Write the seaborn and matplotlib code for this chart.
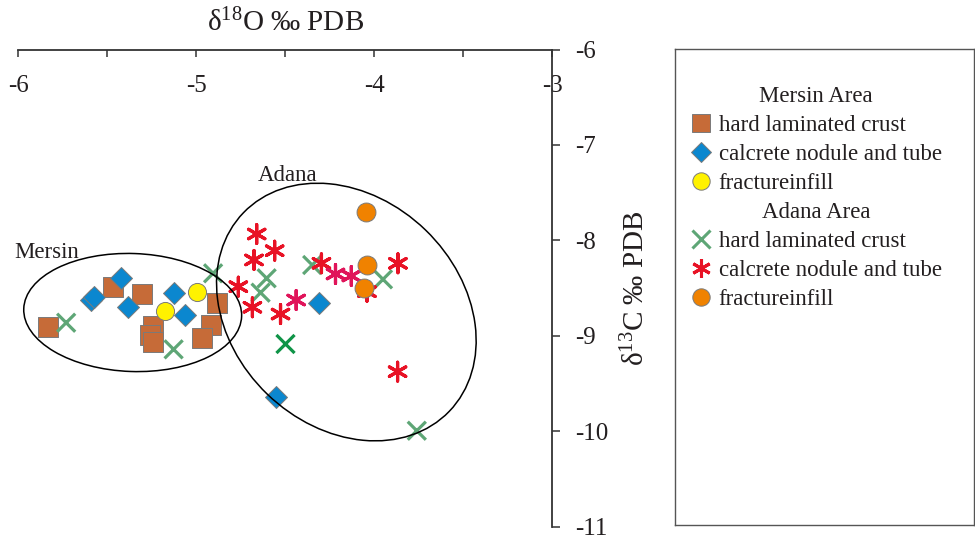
import matplotlib
matplotlib.use("Agg")
import matplotlib.pyplot as plt
import matplotlib.transforms as mtransforms
from matplotlib.lines import Line2D
from matplotlib.patches import Ellipse
from matplotlib.ticker import MultipleLocator
import pandas as pd
import seaborn as sns

sns.set_theme(style="white")
plt.rcParams.update({
    "font.family": ["Liberation Serif", "DejaVu Serif"],
    "mathtext.fontset": "custom",
    "mathtext.rm": "Liberation Serif",
    "mathtext.it": "Liberation Serif:italic",
    "text.color": "#231f20",
})

INK = "#231f20"

# Mersin area
mersin_crust_x = [-5.834, -5.466, -5.303, -5.245, -5.258, -5.245, -4.885, -4.918, -4.965]
mersin_crust_y = [-8.912, -8.493, -8.563, -8.898, -8.993, -9.063, -8.660, -8.888, -9.027]
mersin_nodule_x = [-5.423, -5.591, -5.572, -5.385, -5.124, -5.064, -4.307, -4.554]
mersin_nodule_y = [-8.398, -8.626, -8.598, -8.702, -8.556, -8.783, -8.654, -9.646]
mersin_fill_x = [-4.998, -5.174]
mersin_fill_y = [-8.539, -8.738]

# Adana area
adana_crust_x = [-5.731, -4.905, -5.127, -4.604, -4.638, -4.348, -3.950, -3.760, -4.498]
adana_crust_y = [-8.864, -8.346, -9.143, -8.398, -8.549, -8.259, -8.409, -9.996, -9.087]
adana_crust_shade = ["soft", "soft", "soft", "soft", "soft", "soft", "soft", "soft", "deep"]
adana_nodule_x = [-4.660, -4.559, -4.675, -4.296, -4.217, -4.128, -3.866, -4.763,
                  -4.438, -4.684, -4.526, -4.040, -3.868]
adana_nodule_y = [-7.934, -8.109, -8.206, -8.241, -8.353, -8.374, -8.241, -8.486,
                  -8.626, -8.702, -8.773, -8.539, -9.377]
adana_nodule_shade = ["red", "red", "red", "red", "pink", "pink", "red", "red",
                      "pink", "red", "red", "red", "red"]
adana_fill_x = [-4.045, -4.040, -4.059]
adana_fill_y = [-7.707, -8.259, -8.503]

x_ticks = [-6, -5, -4, -3]
y_ticks = [-6, -7, -8, -9, -10, -11]

BROWN = "#c66b38"
BLUE = "#0b87cf"
YELLOW = "#fff200"
ORANGE = "#f08200"
GREEN = "#5ea676"
GREEN_DEEP = "#0f9447"
RED = "#e81225"
PINK = "#e0145a"
EDGE = "#7a7a7a"
ASTER = (6, 2, 0)

fig = plt.figure(figsize=(9.75, 5.4), dpi=100)
W, H = 975, 540
ax = fig.add_axes([18.3 / W, (H - 526.5) / H, (552 - 18.3) / W, (526.5 - 49.5) / H])
ax.set_xlim(-6, -3)
ax.set_ylim(-11, -6)

# Mersin series
sns.scatterplot(x=mersin_crust_x, y=mersin_crust_y, marker="s", s=200, color=BROWN,
                edgecolor=EDGE, linewidth=0.7, ax=ax, zorder=3)
sns.scatterplot(x=mersin_nodule_x, y=mersin_nodule_y, marker="D", s=125, color=BLUE,
                edgecolor=EDGE, linewidth=0.7, ax=ax, zorder=3)
sns.scatterplot(x=mersin_fill_x, y=mersin_fill_y, marker="o", s=170, color=YELLOW,
                edgecolor=EDGE, linewidth=0.7, ax=ax, zorder=3)
# Adana series
sns.scatterplot(x=adana_crust_x, y=adana_crust_y, hue=adana_crust_shade, marker="x", s=170,
                palette={"soft": GREEN, "deep": GREEN_DEEP}, linewidth=2.3,
                legend=False, ax=ax, zorder=4)
sns.scatterplot(x=adana_nodule_x, y=adana_nodule_y, hue=adana_nodule_shade, marker=ASTER,
                s=185, palette={"red": RED, "pink": PINK}, linewidth=2.3,
                legend=False, ax=ax, zorder=4)
sns.scatterplot(x=adana_fill_x, y=adana_fill_y, marker="o", s=185, color=ORANGE,
                edgecolor=EDGE, linewidth=0.7, ax=ax, zorder=5)


def outline(cx, cy, w_in, h_in, angle):
    tr = fig.dpi_scale_trans + mtransforms.ScaledTranslation(cx, cy, ax.transData)
    ax.add_patch(Ellipse((0, 0), w_in, h_in, angle=angle, transform=tr,
                         fill=False, edgecolor="black", linewidth=1.1, zorder=6))


outline(-5.357, -8.757, 2.18, 1.18, -2)
outline(-4.156, -8.752, 2.86, 2.28, -44)

ax.text(-6.025, -8.133, "Mersin", fontsize=16.5, ha="left", va="center", color=INK)
ax.text(-4.487, -7.316, "Adana", fontsize=16.5, ha="center", va="center", color=INK)

# axes frame: top and right only
for side in ["left", "bottom"]:
    ax.spines[side].set_visible(False)
for side in ["top", "right"]:
    ax.spines[side].set_visible(True)
    ax.spines[side].set_color("#333333")
    ax.spines[side].set_linewidth(1.3)

ax.xaxis.tick_top()
ax.set_xticks(x_ticks)
ax.set_xticklabels([str(v) for v in x_ticks])
ax.xaxis.set_minor_locator(MultipleLocator(0.5))
ax.tick_params(axis="x", which="both", direction="in", length=5, width=1.1,
               color="#333333", top=True, bottom=False, labeltop=True,
               labelbottom=False, labelsize=18, pad=-34, labelcolor=INK)
ax.yaxis.tick_right()
ax.set_yticks(y_ticks)
ax.set_yticklabels([str(v) for v in y_ticks])
ax.tick_params(axis="y", direction="out", length=6, width=1.1, color="#333333",
               right=True, left=False, labelright=True, labelleft=False,
               labelsize=18, pad=11, labelcolor=INK)

ax.set_xlabel("δ$^{\\mathregular{18}}$O ‰ PDB", fontsize=21, color=INK)
ax.xaxis.set_label_position("top")
ax.xaxis.set_label_coords(0.5, 1.056)
ax.set_ylabel("δ$^{\\mathregular{13}}$C ‰ PDB", fontsize=21, color=INK, rotation=90)
ax.yaxis.set_label_position("right")
ax.yaxis.set_label_coords(1.157, 0.5)
ax.yaxis.label.set_va("center")
ax.xaxis.label.set_va("center")

# legend box
lax = fig.add_axes([675 / W, (H - 525) / H, (974 - 675) / W, (525 - 49) / H])
lax.set_xticks([])
lax.set_yticks([])
for sp in lax.spines.values():
    sp.set_visible(True)
    sp.set_color("#555555")
    sp.set_linewidth(1.0)


def handle(marker, color, ms, filled=True, mew=0.7):
    if filled:
        return Line2D([], [], linestyle="none", marker=marker, markersize=ms,
                      markerfacecolor=color, markeredgecolor=EDGE, markeredgewidth=mew)
    return Line2D([], [], linestyle="none", marker=marker, markersize=ms,
                  color=color, markeredgewidth=mew)


labels = ["hard laminated crust", "calcrete nodule and tube", "fractureinfill"]
mersin_handles = [handle("s", BROWN, 13.5), handle("D", BLUE, 10.5), handle("o", YELLOW, 12.5)]
adana_handles = [handle("x", GREEN, 12.5, False, 2.2), handle(ASTER, RED, 13.5, False, 2.2),
                 handle("o", ORANGE, 12.5)]

common = dict(loc="upper left", frameon=False, fontsize=16.5, title_fontsize=16.5,
              handlelength=1.0, handletextpad=0.25, labelspacing=0.33, borderpad=0,
              borderaxespad=0, bbox_transform=fig.transFigure)
leg1 = fig.legend(mersin_handles, labels, title="Mersin Area",
                  bbox_to_anchor=(690 / W, 1 - 86 / H), **common)
leg2 = fig.legend(adana_handles, labels, title="Adana Area",
                  bbox_to_anchor=(690 / W, 1 - 202 / H), **common)
for lg in (leg1, leg2):
    lg._legend_box.sep = 6
    for t in lg.get_texts():
        t.set_color(INK)
    lg.get_title().set_color(INK)

fig.savefig("out.png", dpi=100)
